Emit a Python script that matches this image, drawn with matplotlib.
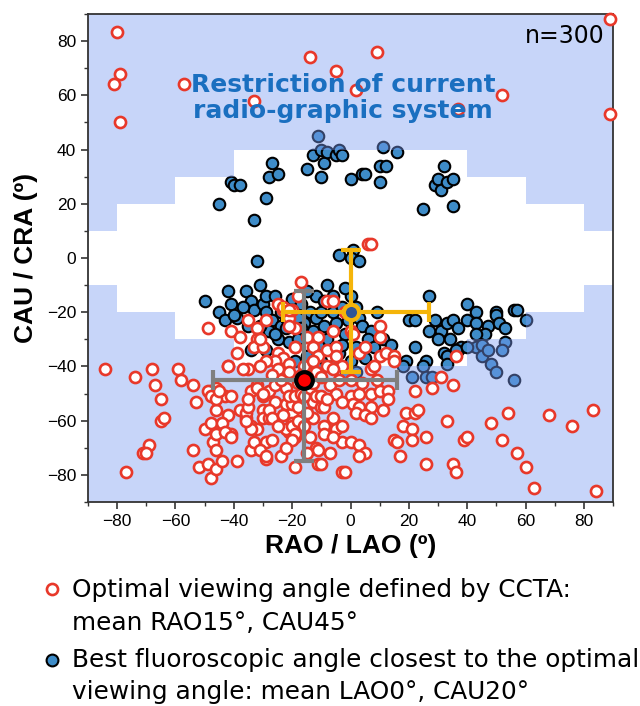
import matplotlib
matplotlib.use("Agg")
import matplotlib.pyplot as plt
import numpy as np

plt.rcParams['font.family'] = ['Liberation Sans', 'DejaVu Sans']

# ---- data: optimal angles defined by CCTA (red open circles) ----
red_x = [-80, -79, -81, -79, -57, -33, -14, -5, 9, 2, 52, 37, 89, 89, 6, 7,
         -84, -74, -68, -67, -65, -65, -64, -69, -71, -70, -77, -59, -58, -54, -53, -54, -52, -49, -50, -49,
         -48, -48, -46, -46, -47, -46, -46, -44, -41, -42, -43, -41, -42, -41, -38, -39, -39, -38, -36, -35,
         -36, -35, -34, -34, -34, -33, -32, -32, -33, -30, -29, -32, -30, -30, -30, -29, -29, -27, -28, -26,
         -25, -24, -23, -22, -21, -23, -22, -21, -20, -19, -19, -19, -18, -17, -20, -20, -19, -20,
         -49, -48, -46, -45, -48, -44, -46, -43, -41, -35, -35, -28, -26, -26, -28, -27, -32, -34, -31, -29,
         -22, -20, -21, -19, -17, -18, -22, -20, -19, -20, -18, -13, -13, -10, -14, -12, -11, -11, -9, -9,
         -16, -14, -12, -36, -32, -30,
         0, 3, 7, 10, 13, 13, 1, 3, 7, 2, 5, 7, -6, -5, -3, -3, 0, 3, 5, 3, -3, -2, 22, 28, 35, 19, 22, 23,
         18, 21, 21, 15, 16, 17, 26, 33, 26, 35, 36, 39, 40,
         36, 31, 48, 52, 54, 57, 60, 63, 68, 76, 83, 84, -10, -9, -10,
         -23, -21, -21, -31, -15, -11, -13, -19, -11, -8, -25, -23, -21, -26, -29, -31, -37, -42, -25, -21,
         -16, -13, -12, -8, -8,
         -6, -6, -5, -5, -3, -6, 0, 1, 3, 5, 10, 10, 10, 12, 15, 15, 7, 8, -2,
         -15, -18, -13, -10, -7, -4, -24, -27, -17, -5, -8, -23, -25, -16, -15, -6, -7, -22, 9, 4, 0, -3,
         11, -15]
red_y = [83.5, 68, 64, 50, 64, 58, 74, 69, 76, 62, 60, 55, 88, 53, 5, 5,
         -41, -44, -41, -47, -52, -60, -59, -69, -72, -72, -79, -41, -45, -47, -53, -71, -77, -26, -63, -76,
         -81, -49, -48, -56, -68, -71, -78, -75, -65, -58, -51, -51, -40, -27, -29, -35, -75, -56, -59, -23,
         -57, -41, -49, -62, -71, -68, -26, -30, -33, -33, -23, -47, -51, -56, -59, -74, -68, -67, -59, -38,
         -17, -73, -38, -41, -22, -19, -48, -64, -19, -26, -33, -77, -14, -9, -52, -57, -66, -61,
         -49, -51, -52, -49, -61, -61, -65, -64, -66, -55, -52, -49, -47, -53, -56, -59, -63, -63, -71, -73,
         -54, -54, -51, -51, -50, -55, -63, -62, -65, -67, -60, -59, -53, -55, -66, -70, -71, -76, -62, -65,
         -51, -48, -51, -60, -48, -50,
         -51, -50, -50, -49, -49, -52, -54, -55, -55, -57, -58, -59, -59, -63, -62, -68, -68, -69, -72, -73,
         -79, -79, -49, -48, -47, -57, -57, -56,
         -62, -63, -67, -67, -68, -73, -66, -60, -76, -76, -79, -67, -66,
         -36, -44, -61, -67, -57, -72, -77, -85, -58, -62, -56, -86, -76, -55, -51,
         -18, -19, -25, -30, -29, -29, -33, -33, -36, -34, -35, -37, -39, -38, -38, -40, -41, -40, -41, -42,
         -40, -38, -42, -16, -40,
         -16, -27, -33, -36, -40, -41, -27, -28, -35, -33, -25, -29, -36, -35, -36, -38, -41, -40, -20,
         -44, -46, -46, -44, -47, -45, -45, -43, -43, -50, -52, -58, -62, -62, -57, -66, -72, -70, -45, -46,
         -45, -53, -56, -72]

# ---- data: best fluoroscopic angles (blue filled circles) ----
blue_x = [-45, -41, -40, -38, -33, -32, -29, -28, -27, -25,
          -15, -13, -11, -10, -9, -10, -8, -5, -4, -3,
          0, 4, 5, 10, 12, 11, 10, 16, 25, 29, 30, 31, 33, 32, 35, 35,
          -4, 1, 0, 3,
          -50, -45, -43, -41, -42, -36, -31, -39, -40, -34, -33, -30, -29, -26, -29, -27, -24, -33, -29, -25,
          -28, -20, -17, -21, -18, -14, -12, -12, -10, -9, -9, -20, -22, -35, -34,
          -6, 0, 2, 3, -5, -2, 4, 7, 6, 11, 2, -4,
          20, 22, 27, 27, 29, 31, 33, 35, 37, 40, 30, 34, 32, 33, 26, 22, 37, 19, 33,
          43, 50, 50, 56, 57, 60, 40, 43, 47, 51, 53, 46, 43, 53, 52, 38, 36,
          43, 45, 45, 48, 50, 56, 47, 40, 21, 18, 25, 26, 28,
          -16, -8, -3, -13, -6, -1, 5, -15, -22, -18, -24, -26, -31, -37, -15, -3, 8, -10, 0, -6,
          2, -2, -12, 9, 14, -19, -8, -2, -17, -11]
blue_y = [20, 28, 27, 27, 14, -1, 22, 30, 35, 31,
          33, 38, 45, 40, 35, 30, 39, 38, 40, 38,
          29, 31, 31, 34, 34, 41, 28, 39, 18, 27, 29, 25, 28, 34, 29, 19,
          1, 3, 0, -1,
          -16, -20, -23, -17, -12, -12, -10, -22, -21, -16, -19, -17, -14, -14, -20, -23, -25, -33, -34, -30,
          -27, -15, -17, -31, -30, -20, -14, -22, -20, -16, -25, -19, -22, -25, -34,
          -14, -14, -18, -22, -24, -28, -25, -27, -30, -30, -33, -35,
          -23, -23, -14, -27, -23, -27, -24, -23, -26, -17, -30, -30, -35, -36, -38, -33, -34, -38, -39,
          -20, -20, -21, -19, -19, -23, -23, -24, -25, -24, -26, -28, -28, -31, -34, -33, -34,
          -33, -32, -36, -39, -42, -45, -34, -33, -44, -40, -40, -44, -44,
          -24, -30, -32, -27, -20, -23, -37, -36, -26, -22, -20, -28, -25, -18, -12, -18, -33, -38, -38, -40,
          -42, -44, -40, -20, -32, -38, -10, -11, -26, -32]

# ---- restriction of the radiographic system (stepped boundary) ----
limit_x = [-90, -80, -60, -40, 40, 60, 80, 90]
limit_upper = [10, 20, 30, 40, 30, 20, 10, 10]
limit_lower = [-10, -20, -30, -40, -30, -20, -10, -10]

# ---- means and SDs ----
red_mean = (-16, -45)
red_xerr = [[31], [32]]
red_yerr = [[30], [33]]
blue_mean = (0, -20)
blue_xerr = [[23], [27]]
blue_yerr = [[22], [23]]

fig = plt.figure(figsize=(6.4, 7.06), dpi=100)
ax = fig.add_axes([88 / 640, 1 - 502 / 706, 525 / 640, 488 / 706])

RED = '#e8382a'
BLUE = '#3e8cc8'
ORANGE = '#f5b50a'
GREY = '#7f7f7f'

ax.plot(blue_x, blue_y, 'o', ms=8.3, mfc=BLUE, mec='black', mew=1.5, ls='none', zorder=1)

ax.fill_between(limit_x, limit_upper, 90, step='post', color='#7a9bf2', alpha=0.42, lw=0, zorder=2)
ax.fill_between(limit_x, limit_lower, -90, step='post', color='#7a9bf2', alpha=0.42, lw=0, zorder=2)

ax.plot(red_x, red_y, 'o', ms=8.0, mfc='white', mec=RED, mew=1.9, ls='none', zorder=3,
        clip_on=False)


def draw_err(mean, xerr, yerr, color, z):
    eb = ax.errorbar([mean[0]], [mean[1]], xerr=xerr, yerr=yerr, fmt='none',
                     ecolor=color, elinewidth=3.0, capsize=7.5, capthick=3.0)
    for art in eb.lines[1]:
        art.set_zorder(z)
    for art in eb.lines[2]:
        art.set_zorder(z)


draw_err(red_mean, red_xerr, red_yerr, GREY, 8)
draw_err(blue_mean, blue_xerr, blue_yerr, ORANGE, 9)
ax.plot([red_mean[0]], [red_mean[1]], 'o', ms=12, mfc='#ff0000', mec='black', mew=3.0, zorder=10)
ax.plot([blue_mean[0]], [blue_mean[1]], 'o', ms=11, mfc='#2f5597', mec=ORANGE, mew=3.0, zorder=10)

ax.set_xlim(-90, 90)
ax.set_ylim(-90, 90)
ax.set_xticks(np.arange(-80, 81, 20))
ax.set_yticks(np.arange(-80, 81, 20))
ax.set_xticks(np.arange(-90, 91, 10), minor=True)
ax.set_yticks(np.arange(-90, 91, 10), minor=True)
ax.tick_params(which='major', length=5, width=1.2, labelsize=12.5, direction='out', color='#333333')
ax.tick_params(which='minor', length=3, width=1.0, direction='out', color='#333333')
for s in ax.spines.values():
    s.set_linewidth(1.3)
    s.set_color('#333333')

ax.set_xlabel('RAO / LAO (º)', fontsize=19, fontweight='bold', labelpad=4)
ax.set_ylabel('CAU / CRA (º)', fontsize=19, fontweight='bold', labelpad=6)

ax.text(-2.6, 59, 'Restriction of current\nradio-graphic system', ha='center', va='center',
        fontsize=18, fontweight='bold', color='#1a6fc0', family='DejaVu Sans',
        linespacing=1.1, zorder=11)
ax.text(87, 82, 'n=300', ha='right', va='center', fontsize=17, color='black',
        family='DejaVu Sans', zorder=11)

# legend below the plot
ax.plot([52 / 640], [1 - 589 / 706], 'o', ms=8, mfc='white', mec=RED, mew=1.9,
        transform=fig.transFigure, clip_on=False)
ax.plot([52 / 640], [1 - 660 / 706], 'o', ms=8.5, mfc=BLUE, mec='black', mew=1.5,
        transform=fig.transFigure, clip_on=False)
leg_lines = ['Optimal viewing angle defined by CCTA:', 'mean RAO15°, CAU45°',
             'Best fluoroscopic angle closest to the optimal', 'viewing angle: mean LAO0°, CAU20°']
leg_y = [590, 623, 660, 692]
for t, yy in zip(leg_lines, leg_y):
    fig.text(72 / 640, 1 - yy / 706, t, ha='left', va='center', fontsize=17.8, color='black',
             family='DejaVu Sans')

fig.savefig('out.png', dpi=100)
